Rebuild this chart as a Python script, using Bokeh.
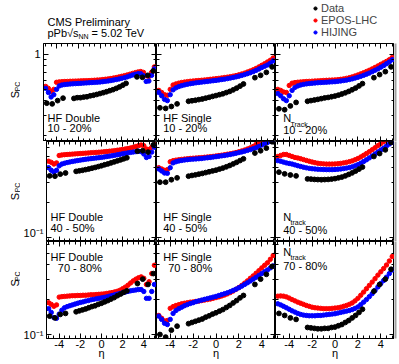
import math
from bokeh.plotting import figure
from bokeh.layouts import column, row
from bokeh.models import Range1d, FixedTicker, LinearAxis, LogAxis, Label, Legend, LegendItem
from bokeh.embed import file_html
from bokeh.resources import INLINE

# ---------------- data ----------------
eta_model = [-5.0, -4.75, -4.5, -4.25, -4.0, -3.75, -3.5, -3.25, -3.0, -2.75, -2.5, -2.25, -2.0,
             -1.75, -1.5, -1.25, -1.0, -0.75, -0.5, -0.25, 0.0, 0.25, 0.5, 0.75, 1.0, 1.25, 1.5,
             1.75, 2.0, 2.25, 2.5, 2.75, 3.0, 3.25, 3.5, 3.75, 4.0, 4.25, 4.5, 4.75, 5.0]
eta_data = [-4.9, -4.4, -3.9, -3.4,
            -2.4, -2.1, -1.8, -1.5, -1.2, -0.9, -0.6, -0.3, 0.0, 0.3, 0.6, 0.9, 1.2, 1.5, 1.8, 2.1, 2.4,
            3.4, 3.9, 4.4, 4.9]

# 10 - 20 %
epos_hfd_1020 = [0.53, 0.51, 0.48, 0.50, 0.575, 0.58, 0.582, 0.584, 0.585, 0.587, 0.588, 0.589, 0.59,
                 0.592, 0.593, 0.594, 0.595, 0.597, 0.599, 0.601, 0.603, 0.607, 0.611, 0.615, 0.62,
                 0.626, 0.632, 0.64, 0.648, 0.656, 0.665, 0.675, 0.686, 0.697, 0.706, 0.712, 0.70,
                 0.655, 0.645, 0.70, 0.78]
hijing_hfd_1020 = [0.51, 0.47, 0.43, 0.45, 0.50, 0.535, 0.545, 0.55, 0.553, 0.556, 0.558, 0.56, 0.562,
                   0.564, 0.566, 0.568, 0.57, 0.572, 0.574, 0.576, 0.578, 0.582, 0.586, 0.59, 0.595,
                   0.601, 0.607, 0.614, 0.622, 0.63, 0.64, 0.652, 0.664, 0.674, 0.682, 0.682, 0.655,
                   0.585, 0.59, 0.66, 0.75]
data_hfd_1020 = [0.38, 0.375, 0.40, 0.42,
                 0.418, 0.424, 0.424, 0.429, 0.432, 0.44, 0.445, 0.452, 0.46, 0.468, 0.477, 0.487,
                 0.497, 0.51, 0.525, 0.543, 0.563,
                 0.64, 0.635, 0.66, 0.72]

epos_hfs_1020 = [0.49, 0.47, 0.45, 0.445, 0.50, 0.545, 0.557, 0.566, 0.573, 0.578, 0.583, 0.587, 0.59,
                 0.593, 0.596, 0.599, 0.602, 0.606, 0.61, 0.614, 0.618, 0.622, 0.627, 0.632, 0.637,
                 0.643, 0.65, 0.657, 0.667, 0.678, 0.69, 0.705, 0.72, 0.737, 0.757, 0.78, 0.805, 0.83,
                 0.86, 0.89, 0.93]
hijing_hfs_1020 = [0.47, 0.44, 0.41, 0.40, 0.45, 0.495, 0.515, 0.528, 0.538, 0.546, 0.553, 0.559, 0.564,
                   0.569, 0.573, 0.577, 0.581, 0.585, 0.589, 0.593, 0.597, 0.602, 0.607, 0.612, 0.618,
                   0.625, 0.632, 0.64, 0.649, 0.659, 0.67, 0.682, 0.695, 0.71, 0.728, 0.748, 0.77, 0.79,
                   0.81, 0.84, 0.88]
data_hfs_1020 = [0.347, 0.343, 0.356, 0.375,
                 0.395, 0.399, 0.403, 0.408, 0.413, 0.42, 0.427, 0.435, 0.442, 0.45, 0.458, 0.469,
                 0.48, 0.495, 0.512, 0.533, 0.556,
                 0.63, 0.66, 0.70, 0.78]

epos_ntrk_1020 = [0.50, 0.49, 0.475, 0.47, 0.54, 0.565, 0.572, 0.576, 0.579, 0.582, 0.584, 0.586, 0.588,
                  0.59, 0.592, 0.594, 0.596, 0.598, 0.60, 0.601, 0.603, 0.606, 0.61, 0.615, 0.622, 0.63,
                  0.64, 0.652, 0.665, 0.68, 0.695, 0.712, 0.73, 0.75, 0.772, 0.795, 0.82, 0.845, 0.87,
                  0.90, 0.94]
hijing_ntrk_1020 = [0.46, 0.44, 0.415, 0.40, 0.44, 0.49, 0.52, 0.535, 0.545, 0.552, 0.557, 0.561, 0.564,
                    0.567, 0.57, 0.572, 0.574, 0.576, 0.578, 0.58, 0.582, 0.586, 0.59, 0.595, 0.60, 0.607,
                    0.615, 0.625, 0.635, 0.647, 0.66, 0.675, 0.69, 0.71, 0.73, 0.75, 0.775, 0.80, 0.83,
                    0.86, 0.90]
data_ntrk_1020 = [0.34, 0.334, 0.36, 0.386,
                  0.395, 0.40, 0.405, 0.41, 0.416, 0.422, 0.426, 0.432, 0.438, 0.446, 0.456, 0.467,
                  0.48, 0.496, 0.513, 0.535, 0.56,
                  0.63, 0.67, 0.71, 0.78]

# 40 - 50 %
epos_hfd_4050 = [0.455, 0.445, 0.43, 0.44, 0.51, 0.515, 0.518, 0.52, 0.522, 0.524, 0.526, 0.528, 0.53,
                 0.532, 0.534, 0.536, 0.538, 0.54, 0.542, 0.544, 0.546, 0.549, 0.552, 0.555, 0.558,
                 0.562, 0.566, 0.57, 0.575, 0.58, 0.586, 0.592, 0.60, 0.61, 0.62, 0.628, 0.62, 0.58,
                 0.575, 0.60, 0.63]
hijing_hfd_4050 = [0.40, 0.38, 0.366, 0.38, 0.415, 0.43, 0.437, 0.443, 0.448, 0.453, 0.457, 0.461, 0.465,
                   0.469, 0.473, 0.476, 0.479, 0.482, 0.485, 0.488, 0.491, 0.495, 0.499, 0.503, 0.507,
                   0.512, 0.517, 0.522, 0.527, 0.532, 0.537, 0.542, 0.546, 0.55, 0.555, 0.55, 0.525,
                   0.49, 0.50, 0.545, 0.60]
data_hfd_4050 = [0.34, 0.338, 0.352, 0.36,
                 0.372, 0.376, 0.38, 0.385, 0.39, 0.396, 0.402, 0.409, 0.416, 0.424, 0.431, 0.44,
                 0.449, 0.458, 0.467, 0.477, 0.487,
                 0.555, 0.56, 0.545, 0.63]

epos_hfs_4050 = [0.40, 0.39, 0.38, 0.385, 0.45, 0.46, 0.465, 0.469, 0.472, 0.475, 0.478, 0.481, 0.483,
                 0.485, 0.487, 0.489, 0.492, 0.495, 0.498, 0.501, 0.505, 0.509, 0.513, 0.518, 0.523,
                 0.528, 0.534, 0.541, 0.549, 0.558, 0.568, 0.58, 0.593, 0.61, 0.635, 0.665, 0.70, 0.73,
                 0.76, 0.79, 0.82]
hijing_hfs_4050 = [0.39, 0.375, 0.36, 0.358, 0.40, 0.44, 0.45, 0.457, 0.462, 0.466, 0.469, 0.472, 0.474,
                   0.476, 0.478, 0.48, 0.484, 0.487, 0.49, 0.494, 0.498, 0.502, 0.506, 0.51, 0.515, 0.52,
                   0.526, 0.533, 0.54, 0.547, 0.555, 0.564, 0.573, 0.583, 0.595, 0.61, 0.628, 0.645,
                   0.66, 0.675, 0.69]
data_hfs_4050 = [0.30, 0.30, 0.315, 0.327,
                 0.338, 0.343, 0.347, 0.352, 0.357, 0.363, 0.369, 0.375, 0.381, 0.389, 0.397, 0.407,
                 0.418, 0.431, 0.445, 0.461, 0.477,
                 0.535, 0.56, 0.59, 0.67]

epos_ntrk_4050 = [0.50, 0.51, 0.52, 0.52, 0.51, 0.50, 0.49, 0.485, 0.478, 0.47, 0.462, 0.455, 0.448,
                  0.442, 0.437, 0.434, 0.432, 0.43, 0.43, 0.43, 0.431, 0.433, 0.436, 0.44, 0.445, 0.451,
                  0.458, 0.468, 0.48, 0.495, 0.512, 0.53, 0.55, 0.572, 0.595, 0.62, 0.645, 0.67, 0.695,
                  0.72, 0.75]
hijing_ntrk_4050 = [0.46, 0.455, 0.447, 0.44, 0.435, 0.43, 0.423, 0.416, 0.41, 0.404, 0.399, 0.395, 0.392,
                    0.39, 0.388, 0.387, 0.386, 0.385, 0.385, 0.385, 0.386, 0.388, 0.39, 0.393, 0.397,
                    0.401, 0.407, 0.415, 0.425, 0.437, 0.452, 0.468, 0.486, 0.505, 0.525, 0.547, 0.568,
                    0.59, 0.615, 0.64, 0.665]
data_ntrk_4050 = [0.366, 0.354, 0.346, 0.34,
                  0.32, 0.319, 0.317, 0.316, 0.315, 0.316, 0.317, 0.319, 0.322, 0.327, 0.332, 0.34,
                  0.35, 0.361, 0.374, 0.389, 0.405,
                  0.50, 0.53, 0.57, 0.66]

# 70 - 80 %
epos_hfd_7080 = [0.188, 0.182, 0.175, 0.18, 0.21, 0.212, 0.213, 0.214, 0.215, 0.216, 0.216, 0.217, 0.217,
                 0.218, 0.218, 0.219, 0.22, 0.22, 0.221, 0.222, 0.223, 0.224, 0.226, 0.228, 0.23, 0.233,
                 0.236, 0.241, 0.248, 0.256, 0.266, 0.278, 0.29, 0.30, 0.308, 0.314, 0.305, 0.27, 0.285,
                 0.335, 0.395]
hijing_hfd_7080 = [0.167, 0.155, 0.14, 0.138, 0.15, 0.162, 0.17, 0.174, 0.177, 0.18, 0.183, 0.186, 0.189,
                   0.191, 0.194, 0.196, 0.199, 0.201, 0.203, 0.205, 0.207, 0.209, 0.211, 0.214, 0.217,
                   0.22, 0.223, 0.226, 0.229, 0.232, 0.235, 0.238, 0.24, 0.242, 0.244, 0.244, 0.235,
                   0.205, 0.205, 0.235, 0.27]
data_hfd_7080 = [0.144, 0.139, 0.149, 0.152,
                 0.157, 0.16, 0.163, 0.166, 0.17, 0.174, 0.177, 0.182, 0.186, 0.191, 0.196, 0.202,
                 0.208, 0.216, 0.223, 0.231, 0.238,
                 0.275, 0.30, 0.27, 0.335]

epos_hfs_7080 = [0.146, 0.138, 0.131, 0.132, 0.168, 0.174, 0.178, 0.181, 0.184, 0.186, 0.188, 0.19, 0.191,
                 0.193, 0.194, 0.196, 0.198, 0.2, 0.202, 0.205, 0.208, 0.211, 0.215, 0.219, 0.224, 0.23,
                 0.237, 0.245, 0.254, 0.265, 0.277, 0.29, 0.305, 0.32, 0.337, 0.355, 0.375, 0.395, 0.415,
                 0.445, 0.48]
hijing_hfs_7080 = [0.144, 0.135, 0.125, 0.122, 0.135, 0.152, 0.161, 0.167, 0.172, 0.177, 0.181, 0.185,
                   0.188, 0.192, 0.195, 0.198, 0.201, 0.204, 0.207, 0.21, 0.213, 0.217, 0.221, 0.225,
                   0.229, 0.234, 0.24, 0.246, 0.253, 0.261, 0.27, 0.279, 0.289, 0.3, 0.311, 0.323, 0.335,
                   0.347, 0.36, 0.375, 0.39]
data_hfs_7080 = [0.10, 0.095, 0.109, 0.118,
                 0.124, 0.127, 0.13, 0.133, 0.136, 0.141, 0.145, 0.15, 0.154, 0.159, 0.164, 0.171,
                 0.178, 0.187, 0.196, 0.207, 0.217,
                 0.27, 0.30, 0.33, 0.386]

epos_ntrk_7080 = [0.214, 0.215, 0.214, 0.211, 0.206, 0.20, 0.195, 0.19, 0.186, 0.182, 0.178, 0.175, 0.172,
                  0.17, 0.169, 0.168, 0.167, 0.167, 0.167, 0.168, 0.169, 0.17, 0.172, 0.175, 0.178, 0.182,
                  0.187, 0.195, 0.205, 0.218, 0.232, 0.248, 0.265, 0.283, 0.303, 0.325, 0.347, 0.37,
                  0.397, 0.43, 0.47]
hijing_ntrk_7080 = [0.184, 0.18, 0.175, 0.17, 0.165, 0.16, 0.156, 0.152, 0.149, 0.147, 0.146, 0.145,
                    0.145, 0.145, 0.146, 0.146, 0.147, 0.148, 0.149, 0.15, 0.151, 0.153, 0.155, 0.157,
                    0.159, 0.161, 0.164, 0.168, 0.173, 0.181, 0.19, 0.2, 0.212, 0.225, 0.24, 0.257,
                    0.275, 0.292, 0.312, 0.335, 0.36]
data_ntrk_7080 = [0.152, 0.146, 0.139, 0.135,
                  0.115, 0.114, 0.113, 0.112, 0.112, 0.113, 0.113, 0.115, 0.116, 0.119, 0.122, 0.127,
                  0.132, 0.139, 0.146, 0.155, 0.165,
                  0.236, 0.27, 0.30, 0.365]

detectors = ["HF Double", "HF Single", "N"]
ntrack_sub = ["Track", "track", "track"]
centralities = ["10 - 20%", "40 - 50%", "70 - 80%"]
series_names = ["Data", "EPOS-LHC", "HIJING"]
series_colors = ["black", "#ff0000", "#0000ff"]

epos = [[epos_hfd_1020, epos_hfs_1020, epos_ntrk_1020],
        [epos_hfd_4050, epos_hfs_4050, epos_ntrk_4050],
        [epos_hfd_7080, epos_hfs_7080, epos_ntrk_7080]]
hijing = [[hijing_hfd_1020, hijing_hfs_1020, hijing_ntrk_1020],
          [hijing_hfd_4050, hijing_hfs_4050, hijing_ntrk_4050],
          [hijing_hfd_7080, hijing_hfs_7080, hijing_ntrk_7080]]
data = [[data_hfd_1020, data_hfs_1020, data_ntrk_1020],
        [data_hfd_4050, data_hfs_4050, data_ntrk_4050],
        [data_hfd_7080, data_hfs_7080, data_ntrk_7080]]

x_major = [-4, -2, 0, 2, 4]
x_minor = [-5, -4.5, -3.5, -3, -2.5, -1.5, -1, -0.5, 0.5, 1, 1.5, 2.5, 3, 3.5, 4.5, 5]
x_labels = {-4: "-4", -2: "-2", 0: "0", 2: "2", 4: "4"}
y_major = [0.1, 1.0]
y_minor = [0.2, 0.3, 0.4, 0.5, 0.6, 0.7, 0.8, 0.9]
y_labels = {0.1: "10\u207b\u00b9", 1.0: "1"}

# ---------------- layout / style ----------------
FONT = "Liberation Sans"
Y_RANGES = [(0.178, 1.24), (0.0924, 0.673), (0.0924, 0.633)]
FRAME_W = [113, 119, 119]
FRAME_H = [98, 100, 97]
HEADER_H = 43
SPACER_W = 20
LEFT_B = 23
STRIP_W = 2
STRIP_PAD = 3
BOTTOM_B = 26
X_LO, X_HI = -5.2, 5.2
MS_MODEL = 4.4
MS_DATA = 4.8


def style_axis(ax, ticker, show, overrides=None):
    ax.ticker = ticker
    ax.axis_line_color = "black"
    ax.major_tick_line_color = "black"
    ax.minor_tick_line_color = "black"
    ax.major_tick_in = 5
    ax.major_tick_out = 0
    ax.minor_tick_in = 3
    ax.minor_tick_out = 0
    ax.axis_label = None
    if show:
        ax.major_label_text_font = FONT
        ax.major_label_text_font_size = "11px"
        ax.major_label_text_color = "black"
        ax.major_label_standoff = 3
        if overrides:
            ax.major_label_overrides = overrides
    else:
        ax.major_label_text_color = None
        ax.major_label_text_font_size = "0px"
        ax.major_label_standoff = 0


def txt(p, text, x, y, size="11px", xu="screen", yu="screen", angle=0.0, align="left"):
    p.add_layout(Label(x=x, y=y, x_units=xu, y_units=yu, text=text, text_font=FONT,
                       text_font_size=size, text_color="black", text_baseline="middle",
                       text_align=align, angle=angle))


def blank(width, height, bg="white", right=0, bottom=0):
    p = figure(width=width, height=height, x_range=Range1d(0, width), y_range=Range1d(height, 0),
               output_backend="svg", toolbar_location=None,
               min_border_left=0, min_border_right=right, min_border_top=0, min_border_bottom=bottom)
    p.axis.visible = False
    p.grid.visible = False
    p.outline_line_color = None
    p.background_fill_color = bg
    p.border_fill_color = "white"
    return p


def make_panel(r, c):
    bl = LEFT_B if c == 0 else 0
    bb = BOTTOM_B if r == 2 else 0
    lo, hi = Y_RANGES[r]
    p = figure(width=FRAME_W[c] + bl, height=FRAME_H[r] + bb,
               x_range=Range1d(X_LO, X_HI), y_range=Range1d(lo, hi), y_axis_type="log",
               output_backend="svg", toolbar_location=None,
               min_border_left=bl, min_border_right=0, min_border_top=0, min_border_bottom=bb)
    p.grid.visible = False
    p.outline_line_color = "black"
    p.outline_line_width = 1
    p.background_fill_color = "white"
    p.border_fill_color = "white"

    xb = p.xaxis[0]
    style_axis(xb, FixedTicker(ticks=x_major, minor_ticks=x_minor), r == 2, x_labels)
    if r != 2:
        xb.fixed_location = lo
    else:
        xb.major_label_standoff = 1
        xb.axis_label = "\u03b7"
        xb.axis_label_text_font = FONT
        xb.axis_label_text_font_size = "11px"
        xb.axis_label_text_font_style = "normal"
        xb.axis_label_text_color = "black"
        xb.axis_label_standoff = -4
    yl = p.yaxis[0]
    style_axis(yl, FixedTicker(ticks=y_major, minor_ticks=y_minor), c == 0, y_labels)
    if c != 0:
        yl.fixed_location = X_LO
    xa = LinearAxis(fixed_location=hi)
    style_axis(xa, FixedTicker(ticks=x_major, minor_ticks=x_minor), False)
    p.add_layout(xa, "above")
    yr = LogAxis(fixed_location=X_HI)
    style_axis(yr, FixedTicker(ticks=y_major, minor_ticks=y_minor), False)
    p.add_layout(yr, "right")

    p.scatter(eta_model, epos[r][c], size=MS_MODEL, marker="circle",
              fill_color=series_colors[1], line_color=series_colors[1])
    p.scatter(eta_model, hijing[r][c], size=MS_MODEL, marker="circle",
              fill_color=series_colors[2], line_color=series_colors[2])
    p.scatter(eta_data, data[r][c], size=MS_DATA, marker="circle",
              fill_color=series_colors[0], line_color=series_colors[0])

    # panel labels (positions in px from frame's bottom-left)
    if c < 2:
        dx = 4 if c == 0 else 6.7
        cx = dx if r < 2 else (11.3 if c == 0 else 11.7)
        ydet, ycen = [(23.5, 13.5), (24.3, 13.7), (82, 70.7)][r]
        txt(p, detectors[c], dx, ydet)
        txt(p, centralities[r], cx, ycen)
    else:
        yN, ysub, ycen = [(23.7, 17.3, 11.5), (25, 19.5, 12), (86.5, 81.5, 73)][r]
        txt(p, detectors[c], 7.7, yN)
        txt(p, ntrack_sub[r], 15, ysub, size="7px")
        txt(p, centralities[r], 7.7, ycen)
    return p


# header with title and legend
header = blank(399, HEADER_H)
txt(header, "CMS Preliminary", 47, 21.5, xu="data", yu="data")
txt(header, "pPb", 47, 32.5, xu="data", yu="data")
txt(header, "\u221as", 66.5, 32.5, xu="data", yu="data")
txt(header, "NN", 78, 35.5, size="7px", xu="data", yu="data")
txt(header, "= 5.02 TeV", 91, 32.5, xu="data", yu="data")
nan = float("nan")
leg_r = []
for i, col in enumerate(series_colors):
    leg_r.append(header.scatter([nan], [nan], size=(MS_DATA if i == 0 else MS_MODEL), marker="circle",
                                fill_color=col, line_color=col))
legend = Legend(items=[LegendItem(label=n, renderers=[rr]) for n, rr in zip(series_names, leg_r)],
                location=(311, 5), orientation="vertical",
                label_text_font=FONT, label_text_font_size="11px",
                glyph_width=8, glyph_height=10, label_height=10, label_standoff=2,
                spacing=-3, padding=0, margin=0,
                border_line_color=None, background_fill_alpha=0)
header.add_layout(legend, "center")

# S_PC labels in narrow left column (y positions in px from row top)
spc_pos = [(51, 43), (55, 46), (52.5, 44)]

rows = [header]
for r in range(3):
    bb = BOTTOM_B if r == 2 else 0
    h = FRAME_H[r] + bb
    sp = blank(SPACER_W, h)
    ys, yp = spc_pos[r]
    txt(sp, "S", 14.2, ys, xu="data", yu="data", angle=math.pi / 2, align="center")
    txt(sp, "PC", 17.2, yp, size="7px", xu="data", yu="data", angle=math.pi / 2, align="center")
    strip = blank(STRIP_W + STRIP_PAD, h, bg="#a0a0a0", right=STRIP_PAD, bottom=bb)
    rows.append(row(sp, *[make_panel(r, c) for c in range(3)], strip))
layout = column(*rows)

open("out.html", "w").write(file_html(layout, INLINE))
